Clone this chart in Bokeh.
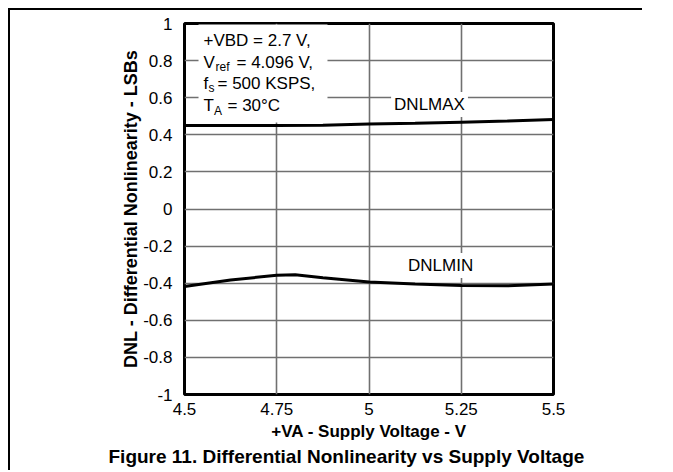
from bokeh.plotting import figure
from bokeh.models import Label, BoxAnnotation, Range1d, Title
from bokeh.embed import file_html
from bokeh.resources import INLINE

# ---- data ----
supply_v_max = [4.5, 4.625, 4.75, 4.875, 5.0, 5.125, 5.25, 5.375, 5.5]
dnl_max = [0.45, 0.45, 0.45, 0.452, 0.458, 0.462, 0.468, 0.474, 0.482]

supply_v_min = [4.5, 4.625, 4.75, 4.8, 4.875, 5.0, 5.125, 5.25, 5.375, 5.5]
dnl_min = [-0.418, -0.383, -0.357, -0.355, -0.37, -0.393, -0.404, -0.413, -0.414, -0.404]

x_ticks = [4.5, 4.75, 5.0, 5.25, 5.5]
x_tick_labels = ["4.5", "4.75", "5", "5.25", "5.5"]
y_ticks = [-1.0, -0.8, -0.6, -0.4, -0.2, 0.0, 0.2, 0.4, 0.6, 0.8, 1.0]
y_tick_labels = ["-1", "-0.8", "-0.6", "-0.4", "-0.2", "0", "0.2", "0.4", "0.6", "0.8", "1"]

x_title = "+VA - Supply Voltage - V"
y_title = "DNL - Differential Nonlinearity - LSBs"
fig_title = "Figure 11. Differential Nonlinearity vs Supply Voltage"
series_names = ["DNLMAX", "DNLMIN"]

FONT = "Liberation Sans"

p = figure(width=634, height=462,
           x_range=Range1d(4.5, 5.5), y_range=Range1d(-1, 1),
           output_backend="svg", toolbar_location=None,
           min_border_left=174, min_border_right=91,
           min_border_top=13, min_border_bottom=78)
p.styles = {"margin-left": "8px", "margin-top": "8px",
            "border-left": "2px solid black", "border-top": "2px solid black"}
p.background_fill_color = "white"
p.border_fill_color = "white"
p.outline_line_color = "black"
p.outline_line_width = 3

for ax in (p.xaxis[0], p.yaxis[0]):
    ax.axis_line_color = None
    ax.major_tick_line_color = None
    ax.minor_tick_line_color = None
    ax.major_tick_out = 0
    ax.major_tick_in = 0
    ax.minor_tick_out = 0
    ax.major_label_text_font = FONT
    ax.major_label_text_font_size = "17px"
    ax.major_label_text_color = "black"
    ax.axis_label_text_font = FONT
    ax.axis_label_text_font_style = "bold"
    ax.axis_label_text_color = "black"

p.xaxis.ticker = x_ticks
p.xaxis.major_label_overrides = dict(zip(x_ticks, x_tick_labels))
p.xaxis.major_label_standoff = 8
p.xaxis.axis_label = x_title
p.xaxis.axis_label_text_font_size = "17px"
p.xaxis.axis_label_standoff = 4

p.yaxis.ticker = y_ticks
p.yaxis.major_label_overrides = dict(zip(y_ticks, y_tick_labels))
p.yaxis.major_label_standoff = 12
p.yaxis.axis_label = y_title
p.yaxis.axis_label_text_font_size = "18px"
p.yaxis.axis_label_standoff = -1

p.xgrid.grid_line_color = "#707070"
p.ygrid.grid_line_color = "#707070"
p.xgrid.grid_line_width = 1.6
p.ygrid.grid_line_width = 1.6

# white box behind the conditions text
p.add_layout(BoxAnnotation(left=4.538, right=4.8875, top=0.995, bottom=0.466,
                           fill_color="white", fill_alpha=1, line_color=None,
                           level="underlay"))

p.line(supply_v_max, dnl_max, line_color="black", line_width=3)
p.line(supply_v_min, dnl_min, line_color="black", line_width=3)

# conditions text with subscripts
def txt(text, xo, yo, size="17px"):
    p.add_layout(Label(x=4.5, y=1.0, x_offset=xo, y_offset=yo, text=text,
                       text_font=FONT, text_font_size=size, text_color="black",
                       text_baseline="alphabetic", text_align="left"))

txt("+VBD = 2.7 V,", 19, -17)
txt("V", 19, -39)
txt("ref", 31, -43, "12px")
txt("= 4.096 V,", 52, -39)
txt("f", 19, -60)
txt("s", 24, -64, "12px")
txt("= 500 KSPS,", 33, -60)
txt("T", 19, -82)
txt("A", 29.5, -87, "12px")
txt("= 30\u00b0C", 43, -82)

# series labels
p.add_layout(Label(x=5.164, y=0.563, text=series_names[0], text_font=FONT,
                   text_font_size="17px", text_color="black",
                   text_align="center", text_baseline="middle",
                   background_fill_color="white", padding=3))
p.add_layout(Label(x=5.194, y=-0.305, text=series_names[1], text_font=FONT,
                   text_font_size="17px", text_color="black",
                   text_align="center", text_baseline="middle",
                   background_fill_color="white", padding=3))

# figure caption
p.add_layout(Title(text=fig_title, align="left", offset=-76, standoff=0,
                   text_font=FONT, text_font_size="19px", text_font_style="bold",
                   text_color="black"), "below")

open("out.html", "w").write(file_html(p, INLINE))
